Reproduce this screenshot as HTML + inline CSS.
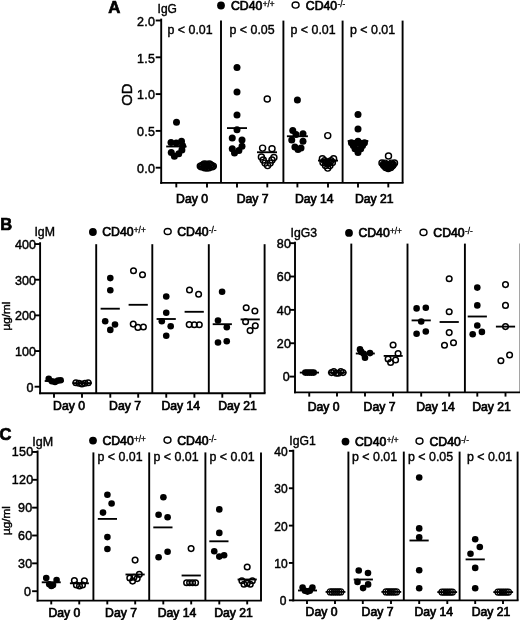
<!DOCTYPE html>
<html><head><meta charset="utf-8"><title>Figure</title>
<style>
html,body{margin:0;padding:0;background:#fff;}
body{width:520px;height:620px;overflow:hidden;}
svg{display:block;font-family:'Liberation Sans', sans-serif;fill:#000;}
text{stroke:#000;stroke-width:0.7px;}
svg{filter:grayscale(1);}
</style></head>
<body>
<svg width="520" height="620" viewBox="0 0 520 620">
<rect x="0" y="0" width="520" height="620" fill="#fff"/>
<text x="108.30" y="12.90" font-size="16.8" text-anchor="start" font-weight="bold" >A</text>
<text x="157.60" y="13.20" font-size="12" text-anchor="start" font-weight="normal" style="stroke-width:0.4px">IgG</text>
<circle cx="221.00" cy="5.50" r="3.9" fill="#000"/>
<text x="231.00" y="10.00" font-size="12.25">CD40<tspan font-size="8.2" dy="-3.1" dx="0.3" stroke-width="0.3">+/+</tspan></text>
<ellipse cx="295.60" cy="5.00" rx="3.45" ry="3.1" fill="#fff" stroke="#000" stroke-width="1.45"/>
<text x="305.80" y="10.00" font-size="12.25">CD40<tspan font-size="8.2" dy="-3.1" dx="0.3" stroke-width="0.3">-/-</tspan></text>
<line x1="161.20" y1="18.65" x2="161.20" y2="183.85" stroke="#000" stroke-width="1.9"/>
<line x1="160.25" y1="182.90" x2="403.55" y2="182.90" stroke="#000" stroke-width="1.9"/>
<line x1="221.00" y1="20.60" x2="221.00" y2="182.90" stroke="#000" stroke-width="1.9"/>
<line x1="283.40" y1="20.60" x2="283.40" y2="182.90" stroke="#000" stroke-width="1.9"/>
<line x1="342.60" y1="20.60" x2="342.60" y2="182.90" stroke="#000" stroke-width="1.9"/>
<line x1="402.60" y1="20.60" x2="402.60" y2="182.90" stroke="#000" stroke-width="1.9"/>
<line x1="155.70" y1="20.50" x2="161.20" y2="20.50" stroke="#000" stroke-width="1.9"/>
<text x="155.40" y="25.80" font-size="12.5" text-anchor="end" font-weight="normal" style="stroke-width:0.45px;letter-spacing:0.35px">2.0</text>
<line x1="155.70" y1="57.30" x2="161.20" y2="57.30" stroke="#000" stroke-width="1.9"/>
<text x="155.40" y="62.60" font-size="12.5" text-anchor="end" font-weight="normal" style="stroke-width:0.45px;letter-spacing:0.35px">1.5</text>
<line x1="155.70" y1="94.10" x2="161.20" y2="94.10" stroke="#000" stroke-width="1.9"/>
<text x="155.40" y="99.40" font-size="12.5" text-anchor="end" font-weight="normal" style="stroke-width:0.45px;letter-spacing:0.35px">1.0</text>
<line x1="155.70" y1="130.90" x2="161.20" y2="130.90" stroke="#000" stroke-width="1.9"/>
<text x="155.40" y="136.20" font-size="12.5" text-anchor="end" font-weight="normal" style="stroke-width:0.45px;letter-spacing:0.35px">0.5</text>
<line x1="155.70" y1="167.70" x2="161.20" y2="167.70" stroke="#000" stroke-width="1.9"/>
<text x="155.40" y="173.00" font-size="12.5" text-anchor="end" font-weight="normal" style="stroke-width:0.45px;letter-spacing:0.35px">0.0</text>
<line x1="176.30" y1="182.90" x2="176.30" y2="187.40" stroke="#000" stroke-width="1.9"/>
<line x1="207.00" y1="182.90" x2="207.00" y2="187.40" stroke="#000" stroke-width="1.9"/>
<line x1="237.00" y1="182.90" x2="237.00" y2="187.40" stroke="#000" stroke-width="1.9"/>
<line x1="267.30" y1="182.90" x2="267.30" y2="187.40" stroke="#000" stroke-width="1.9"/>
<line x1="297.40" y1="182.90" x2="297.40" y2="187.40" stroke="#000" stroke-width="1.9"/>
<line x1="328.00" y1="182.90" x2="328.00" y2="187.40" stroke="#000" stroke-width="1.9"/>
<line x1="358.00" y1="182.90" x2="358.00" y2="187.40" stroke="#000" stroke-width="1.9"/>
<line x1="388.30" y1="182.90" x2="388.30" y2="187.40" stroke="#000" stroke-width="1.9"/>
<text x="192.00" y="203.00" font-size="12.2" text-anchor="middle" font-weight="normal" >Day 0</text>
<text x="252.60" y="203.00" font-size="12.2" text-anchor="middle" font-weight="normal" >Day 7</text>
<text x="314.20" y="203.00" font-size="12.2" text-anchor="middle" font-weight="normal" >Day 14</text>
<text x="374.30" y="203.00" font-size="12.2" text-anchor="middle" font-weight="normal" >Day 21</text>
<text transform="translate(132.3,94.6) rotate(-90)" font-size="14.8" text-anchor="middle" style="stroke-width:0.45px">OD</text>
<text x="167.50" y="34.20" font-size="12.4" text-anchor="start" font-weight="normal" style="stroke-width:0.4px">p &lt; 0.01</text>
<text x="229.50" y="34.20" font-size="12.4" text-anchor="start" font-weight="normal" style="stroke-width:0.4px">p &lt; 0.05</text>
<text x="290.50" y="34.20" font-size="12.4" text-anchor="start" font-weight="normal" style="stroke-width:0.4px">p &lt; 0.01</text>
<text x="350.00" y="34.20" font-size="12.4" text-anchor="start" font-weight="normal" style="stroke-width:0.4px">p &lt; 0.01</text>
<circle cx="176.50" cy="122.30" r="3.5" fill="#000"/>
<circle cx="171.00" cy="142.50" r="3.5" fill="#000"/>
<circle cx="176.25" cy="143.00" r="3.5" fill="#000"/>
<circle cx="181.50" cy="141.30" r="3.5" fill="#000"/>
<circle cx="171.25" cy="152.50" r="3.5" fill="#000"/>
<circle cx="174.40" cy="156.25" r="3.5" fill="#000"/>
<circle cx="178.75" cy="153.75" r="3.5" fill="#000"/>
<circle cx="181.90" cy="150.00" r="3.5" fill="#000"/>
<circle cx="182.50" cy="145.50" r="3.5" fill="#000"/>
<line x1="166.20" y1="146.50" x2="186.60" y2="146.50" stroke="#000" stroke-width="1.85"/>
<circle cx="200.30" cy="166.10" r="3.0" fill="none" stroke="#000" stroke-width="1.45"/>
<circle cx="202.10" cy="165.50" r="3.0" fill="none" stroke="#000" stroke-width="1.45"/>
<circle cx="204.30" cy="163.90" r="3.0" fill="none" stroke="#000" stroke-width="1.45"/>
<circle cx="205.50" cy="167.10" r="3.0" fill="none" stroke="#000" stroke-width="1.45"/>
<circle cx="206.80" cy="165.70" r="3.0" fill="none" stroke="#000" stroke-width="1.45"/>
<circle cx="208.10" cy="167.10" r="3.0" fill="none" stroke="#000" stroke-width="1.45"/>
<circle cx="209.50" cy="163.90" r="3.0" fill="none" stroke="#000" stroke-width="1.45"/>
<circle cx="211.50" cy="165.50" r="3.0" fill="none" stroke="#000" stroke-width="1.45"/>
<circle cx="213.30" cy="166.10" r="3.0" fill="none" stroke="#000" stroke-width="1.45"/>
<circle cx="206.80" cy="168.00" r="3.0" fill="none" stroke="#000" stroke-width="1.45"/>
<circle cx="204.50" cy="167.70" r="3.0" fill="none" stroke="#000" stroke-width="1.45"/>
<circle cx="209.10" cy="167.70" r="3.0" fill="none" stroke="#000" stroke-width="1.45"/>
<circle cx="201.30" cy="166.80" r="3.0" fill="none" stroke="#000" stroke-width="1.45"/>
<circle cx="212.30" cy="166.80" r="3.0" fill="none" stroke="#000" stroke-width="1.45"/>
<circle cx="203.00" cy="164.90" r="3.0" fill="none" stroke="#000" stroke-width="1.45"/>
<circle cx="210.80" cy="164.90" r="3.0" fill="none" stroke="#000" stroke-width="1.45"/>
<circle cx="206.80" cy="164.30" r="3.0" fill="none" stroke="#000" stroke-width="1.45"/>
<circle cx="237.00" cy="67.50" r="3.5" fill="#000"/>
<circle cx="237.00" cy="91.90" r="3.5" fill="#000"/>
<circle cx="237.00" cy="115.00" r="3.5" fill="#000"/>
<circle cx="237.00" cy="129.75" r="3.5" fill="#000"/>
<circle cx="232.25" cy="138.10" r="3.5" fill="#000"/>
<circle cx="242.00" cy="140.00" r="3.5" fill="#000"/>
<circle cx="242.00" cy="146.25" r="3.5" fill="#000"/>
<circle cx="232.25" cy="148.75" r="3.5" fill="#000"/>
<circle cx="238.90" cy="150.50" r="3.5" fill="#000"/>
<circle cx="234.50" cy="153.10" r="3.5" fill="#000"/>
<line x1="227.00" y1="128.10" x2="247.00" y2="128.10" stroke="#000" stroke-width="1.85"/>
<circle cx="267.25" cy="99.00" r="3.0" fill="none" stroke="#000" stroke-width="1.45"/>
<circle cx="262.60" cy="148.10" r="3.0" fill="none" stroke="#000" stroke-width="1.45"/>
<circle cx="272.00" cy="148.75" r="3.0" fill="none" stroke="#000" stroke-width="1.45"/>
<circle cx="261.40" cy="156.90" r="3.0" fill="none" stroke="#000" stroke-width="1.45"/>
<circle cx="273.90" cy="157.50" r="3.0" fill="none" stroke="#000" stroke-width="1.45"/>
<circle cx="263.25" cy="160.00" r="3.0" fill="none" stroke="#000" stroke-width="1.45"/>
<circle cx="272.00" cy="160.00" r="3.0" fill="none" stroke="#000" stroke-width="1.45"/>
<circle cx="265.10" cy="163.10" r="3.0" fill="none" stroke="#000" stroke-width="1.45"/>
<circle cx="270.10" cy="163.10" r="3.0" fill="none" stroke="#000" stroke-width="1.45"/>
<circle cx="267.60" cy="165.60" r="3.0" fill="none" stroke="#000" stroke-width="1.45"/>
<line x1="257.00" y1="152.25" x2="277.00" y2="152.25" stroke="#000" stroke-width="1.85"/>
<circle cx="297.40" cy="100.00" r="3.5" fill="#000"/>
<circle cx="292.75" cy="130.60" r="3.5" fill="#000"/>
<circle cx="296.00" cy="134.40" r="3.5" fill="#000"/>
<circle cx="303.00" cy="133.75" r="3.5" fill="#000"/>
<circle cx="291.75" cy="140.00" r="3.5" fill="#000"/>
<circle cx="303.00" cy="141.25" r="3.5" fill="#000"/>
<circle cx="294.90" cy="146.90" r="3.5" fill="#000"/>
<circle cx="298.00" cy="149.40" r="3.5" fill="#000"/>
<circle cx="301.00" cy="148.00" r="3.5" fill="#000"/>
<line x1="286.90" y1="136.25" x2="307.90" y2="136.25" stroke="#000" stroke-width="1.85"/>
<circle cx="327.75" cy="135.60" r="3.0" fill="none" stroke="#000" stroke-width="1.45"/>
<circle cx="322.40" cy="158.75" r="3.0" fill="none" stroke="#000" stroke-width="1.45"/>
<circle cx="333.60" cy="158.75" r="3.0" fill="none" stroke="#000" stroke-width="1.45"/>
<circle cx="323.00" cy="162.50" r="3.0" fill="none" stroke="#000" stroke-width="1.45"/>
<circle cx="332.40" cy="162.50" r="3.0" fill="none" stroke="#000" stroke-width="1.45"/>
<circle cx="325.50" cy="165.60" r="3.0" fill="none" stroke="#000" stroke-width="1.45"/>
<circle cx="329.90" cy="165.60" r="3.0" fill="none" stroke="#000" stroke-width="1.45"/>
<circle cx="327.75" cy="168.10" r="3.0" fill="none" stroke="#000" stroke-width="1.45"/>
<circle cx="324.60" cy="160.80" r="3.0" fill="none" stroke="#000" stroke-width="1.45"/>
<circle cx="331.00" cy="160.80" r="3.0" fill="none" stroke="#000" stroke-width="1.45"/>
<circle cx="327.75" cy="164.00" r="3.0" fill="none" stroke="#000" stroke-width="1.45"/>
<circle cx="326.50" cy="162.30" r="3.0" fill="none" stroke="#000" stroke-width="1.45"/>
<circle cx="329.00" cy="162.30" r="3.0" fill="none" stroke="#000" stroke-width="1.45"/>
<line x1="318.00" y1="160.60" x2="338.00" y2="160.60" stroke="#000" stroke-width="1.85"/>
<circle cx="358.00" cy="114.40" r="3.5" fill="#000"/>
<circle cx="358.00" cy="129.00" r="3.5" fill="#000"/>
<circle cx="358.00" cy="141.25" r="3.5" fill="#000"/>
<circle cx="351.40" cy="142.75" r="3.5" fill="#000"/>
<circle cx="364.50" cy="142.75" r="3.5" fill="#000"/>
<circle cx="353.25" cy="145.60" r="3.5" fill="#000"/>
<circle cx="362.60" cy="145.60" r="3.5" fill="#000"/>
<circle cx="355.00" cy="148.75" r="3.5" fill="#000"/>
<circle cx="360.75" cy="148.75" r="3.5" fill="#000"/>
<circle cx="358.00" cy="152.50" r="3.5" fill="#000"/>
<circle cx="355.50" cy="143.50" r="3.5" fill="#000"/>
<circle cx="360.50" cy="143.50" r="3.5" fill="#000"/>
<line x1="347.70" y1="141.00" x2="368.30" y2="141.00" stroke="#000" stroke-width="1.85"/>
<circle cx="388.50" cy="156.00" r="3.0" fill="none" stroke="#000" stroke-width="1.45"/>
<circle cx="382.00" cy="163.00" r="3.0" fill="none" stroke="#000" stroke-width="1.45"/>
<circle cx="394.50" cy="163.00" r="3.0" fill="none" stroke="#000" stroke-width="1.45"/>
<circle cx="383.90" cy="165.60" r="3.0" fill="none" stroke="#000" stroke-width="1.45"/>
<circle cx="392.60" cy="165.60" r="3.0" fill="none" stroke="#000" stroke-width="1.45"/>
<circle cx="385.75" cy="167.50" r="3.0" fill="none" stroke="#000" stroke-width="1.45"/>
<circle cx="390.75" cy="167.50" r="3.0" fill="none" stroke="#000" stroke-width="1.45"/>
<circle cx="388.25" cy="168.50" r="3.0" fill="none" stroke="#000" stroke-width="1.45"/>
<circle cx="385.00" cy="163.10" r="3.0" fill="none" stroke="#000" stroke-width="1.45"/>
<circle cx="391.40" cy="163.10" r="3.0" fill="none" stroke="#000" stroke-width="1.45"/>
<circle cx="383.40" cy="164.40" r="3.0" fill="none" stroke="#000" stroke-width="1.45"/>
<circle cx="386.20" cy="164.80" r="3.0" fill="none" stroke="#000" stroke-width="1.45"/>
<circle cx="388.30" cy="165.30" r="3.0" fill="none" stroke="#000" stroke-width="1.45"/>
<circle cx="390.40" cy="164.80" r="3.0" fill="none" stroke="#000" stroke-width="1.45"/>
<circle cx="393.20" cy="164.40" r="3.0" fill="none" stroke="#000" stroke-width="1.45"/>
<circle cx="387.00" cy="166.80" r="3.0" fill="none" stroke="#000" stroke-width="1.45"/>
<circle cx="389.60" cy="166.80" r="3.0" fill="none" stroke="#000" stroke-width="1.45"/>
<circle cx="388.30" cy="167.20" r="3.0" fill="none" stroke="#000" stroke-width="1.45"/>
<circle cx="384.60" cy="165.80" r="3.0" fill="none" stroke="#000" stroke-width="1.45"/>
<circle cx="392.00" cy="165.80" r="3.0" fill="none" stroke="#000" stroke-width="1.45"/>
<text x="0.20" y="230.40" font-size="16.5" text-anchor="start" font-weight="bold" >B</text>
<text x="34.40" y="236.40" font-size="12.3" text-anchor="start" font-weight="normal" style="stroke-width:0.4px">IgM</text>
<circle cx="92.90" cy="232.00" r="3.9" fill="#000"/>
<text x="102.20" y="236.20" font-size="12.25">CD40<tspan font-size="8.2" dy="-3.1" dx="0.3" stroke-width="0.3">+/+</tspan></text>
<ellipse cx="167.70" cy="231.50" rx="3.45" ry="3.1" fill="#fff" stroke="#000" stroke-width="1.45"/>
<text x="177.20" y="236.20" font-size="12.25">CD40<tspan font-size="8.2" dy="-3.1" dx="0.3" stroke-width="0.3">-/-</tspan></text>
<line x1="40.10" y1="242.25" x2="40.10" y2="394.15" stroke="#000" stroke-width="1.9"/>
<line x1="39.15" y1="393.20" x2="265.55" y2="393.20" stroke="#000" stroke-width="1.9"/>
<line x1="96.20" y1="244.20" x2="96.20" y2="393.20" stroke="#000" stroke-width="1.9"/>
<line x1="152.30" y1="244.20" x2="152.30" y2="393.20" stroke="#000" stroke-width="1.9"/>
<line x1="208.80" y1="244.20" x2="208.80" y2="393.20" stroke="#000" stroke-width="1.9"/>
<line x1="264.60" y1="244.20" x2="264.60" y2="393.20" stroke="#000" stroke-width="1.9"/>
<line x1="34.60" y1="244.06" x2="40.10" y2="244.06" stroke="#000" stroke-width="1.9"/>
<text x="35.90" y="249.06" font-size="12.5" text-anchor="end" font-weight="normal" style="stroke-width:0.45px;letter-spacing:0.0px">400</text>
<line x1="34.60" y1="279.72" x2="40.10" y2="279.72" stroke="#000" stroke-width="1.9"/>
<text x="35.90" y="284.72" font-size="12.5" text-anchor="end" font-weight="normal" style="stroke-width:0.45px;letter-spacing:0.0px">300</text>
<line x1="34.60" y1="315.38" x2="40.10" y2="315.38" stroke="#000" stroke-width="1.9"/>
<text x="35.90" y="320.38" font-size="12.5" text-anchor="end" font-weight="normal" style="stroke-width:0.45px;letter-spacing:0.0px">200</text>
<line x1="34.60" y1="351.04" x2="40.10" y2="351.04" stroke="#000" stroke-width="1.9"/>
<text x="35.90" y="356.04" font-size="12.5" text-anchor="end" font-weight="normal" style="stroke-width:0.45px;letter-spacing:0.0px">100</text>
<line x1="34.60" y1="386.70" x2="40.10" y2="386.70" stroke="#000" stroke-width="1.9"/>
<text x="33.50" y="391.70" font-size="12.5" text-anchor="end" font-weight="normal" style="stroke-width:0.45px;letter-spacing:0.0px">0</text>
<line x1="54.00" y1="393.20" x2="54.00" y2="397.70" stroke="#000" stroke-width="1.9"/>
<line x1="82.00" y1="393.20" x2="82.00" y2="397.70" stroke="#000" stroke-width="1.9"/>
<line x1="110.30" y1="393.20" x2="110.30" y2="397.70" stroke="#000" stroke-width="1.9"/>
<line x1="138.20" y1="393.20" x2="138.20" y2="397.70" stroke="#000" stroke-width="1.9"/>
<line x1="166.25" y1="393.20" x2="166.25" y2="397.70" stroke="#000" stroke-width="1.9"/>
<line x1="194.40" y1="393.20" x2="194.40" y2="397.70" stroke="#000" stroke-width="1.9"/>
<line x1="222.30" y1="393.20" x2="222.30" y2="397.70" stroke="#000" stroke-width="1.9"/>
<line x1="250.30" y1="393.20" x2="250.30" y2="397.70" stroke="#000" stroke-width="1.9"/>
<text x="69.00" y="410.40" font-size="12.2" text-anchor="middle" font-weight="normal" >Day 0</text>
<text x="125.00" y="410.40" font-size="12.2" text-anchor="middle" font-weight="normal" >Day 7</text>
<text x="180.80" y="410.40" font-size="12.2" text-anchor="middle" font-weight="normal" >Day 14</text>
<text x="237.50" y="410.40" font-size="12.2" text-anchor="middle" font-weight="normal" >Day 21</text>
<text transform="translate(9.5,316) rotate(-90)" font-size="11.7" text-anchor="middle" style="stroke-width:0.4px">µg/ml</text>
<circle cx="48.75" cy="378.90" r="3.3" fill="#000"/>
<circle cx="51.90" cy="381.25" r="3.3" fill="#000"/>
<circle cx="55.00" cy="381.90" r="3.3" fill="#000"/>
<circle cx="58.10" cy="380.60" r="3.3" fill="#000"/>
<circle cx="60.60" cy="380.20" r="3.3" fill="#000"/>
<line x1="44.70" y1="381.00" x2="63.70" y2="381.00" stroke="#000" stroke-width="1.85"/>
<circle cx="75.90" cy="382.70" r="2.8" fill="none" stroke="#000" stroke-width="1.5"/>
<circle cx="78.90" cy="383.30" r="2.8" fill="none" stroke="#000" stroke-width="1.5"/>
<circle cx="81.90" cy="384.00" r="2.8" fill="none" stroke="#000" stroke-width="1.5"/>
<circle cx="85.00" cy="383.30" r="2.8" fill="none" stroke="#000" stroke-width="1.5"/>
<circle cx="88.20" cy="382.80" r="2.8" fill="none" stroke="#000" stroke-width="1.5"/>
<line x1="72.40" y1="383.10" x2="91.80" y2="383.10" stroke="#000" stroke-width="1.85"/>
<circle cx="110.30" cy="278.10" r="3.3" fill="#000"/>
<circle cx="110.30" cy="290.30" r="3.3" fill="#000"/>
<circle cx="105.20" cy="321.20" r="3.3" fill="#000"/>
<circle cx="115.00" cy="324.50" r="3.3" fill="#000"/>
<circle cx="110.30" cy="329.90" r="3.3" fill="#000"/>
<line x1="100.60" y1="308.70" x2="119.80" y2="308.70" stroke="#000" stroke-width="1.85"/>
<circle cx="133.50" cy="270.80" r="2.8" fill="none" stroke="#000" stroke-width="1.5"/>
<circle cx="142.50" cy="274.75" r="2.8" fill="none" stroke="#000" stroke-width="1.5"/>
<circle cx="133.25" cy="324.10" r="2.8" fill="none" stroke="#000" stroke-width="1.5"/>
<circle cx="137.90" cy="327.40" r="2.8" fill="none" stroke="#000" stroke-width="1.5"/>
<circle cx="143.40" cy="327.00" r="2.8" fill="none" stroke="#000" stroke-width="1.5"/>
<line x1="128.60" y1="304.80" x2="147.80" y2="304.80" stroke="#000" stroke-width="1.85"/>
<circle cx="166.25" cy="296.50" r="3.3" fill="#000"/>
<circle cx="166.25" cy="312.70" r="3.3" fill="#000"/>
<circle cx="161.80" cy="321.20" r="3.3" fill="#000"/>
<circle cx="170.70" cy="326.30" r="3.3" fill="#000"/>
<circle cx="166.25" cy="335.80" r="3.3" fill="#000"/>
<line x1="156.60" y1="319.00" x2="175.80" y2="319.00" stroke="#000" stroke-width="1.85"/>
<circle cx="189.50" cy="290.00" r="2.8" fill="none" stroke="#000" stroke-width="1.5"/>
<circle cx="198.60" cy="294.30" r="2.8" fill="none" stroke="#000" stroke-width="1.5"/>
<circle cx="189.20" cy="324.60" r="2.8" fill="none" stroke="#000" stroke-width="1.5"/>
<circle cx="194.30" cy="324.80" r="2.8" fill="none" stroke="#000" stroke-width="1.5"/>
<circle cx="199.30" cy="324.80" r="2.8" fill="none" stroke="#000" stroke-width="1.5"/>
<line x1="184.60" y1="311.80" x2="203.80" y2="311.80" stroke="#000" stroke-width="1.85"/>
<circle cx="222.10" cy="291.70" r="3.3" fill="#000"/>
<circle cx="218.00" cy="320.50" r="3.3" fill="#000"/>
<circle cx="226.80" cy="327.20" r="3.3" fill="#000"/>
<circle cx="218.00" cy="342.50" r="3.3" fill="#000"/>
<circle cx="226.75" cy="341.25" r="3.3" fill="#000"/>
<line x1="212.70" y1="324.20" x2="231.90" y2="324.20" stroke="#000" stroke-width="1.85"/>
<circle cx="246.20" cy="307.70" r="2.8" fill="none" stroke="#000" stroke-width="1.5"/>
<circle cx="254.90" cy="311.00" r="2.8" fill="none" stroke="#000" stroke-width="1.5"/>
<circle cx="245.60" cy="321.70" r="2.8" fill="none" stroke="#000" stroke-width="1.5"/>
<circle cx="255.30" cy="325.80" r="2.8" fill="none" stroke="#000" stroke-width="1.5"/>
<circle cx="250.10" cy="330.60" r="2.8" fill="none" stroke="#000" stroke-width="1.5"/>
<line x1="240.60" y1="319.40" x2="259.80" y2="319.40" stroke="#000" stroke-width="1.85"/>
<text x="290.50" y="237.40" font-size="12.2" text-anchor="start" font-weight="normal" style="stroke-width:0.4px">IgG3</text>
<circle cx="349.00" cy="232.90" r="3.9" fill="#000"/>
<text x="358.40" y="236.80" font-size="12.25">CD40<tspan font-size="8.2" dy="-3.1" dx="0.3" stroke-width="0.3">+/+</tspan></text>
<ellipse cx="423.50" cy="232.40" rx="3.45" ry="3.1" fill="#fff" stroke="#000" stroke-width="1.45"/>
<text x="433.30" y="236.80" font-size="12.25">CD40<tspan font-size="8.2" dy="-3.1" dx="0.3" stroke-width="0.3">-/-</tspan></text>
<line x1="295.00" y1="241.65" x2="295.00" y2="393.35" stroke="#000" stroke-width="1.9"/>
<line x1="294.05" y1="392.40" x2="521.55" y2="392.40" stroke="#000" stroke-width="1.9"/>
<line x1="351.30" y1="243.60" x2="351.30" y2="392.40" stroke="#000" stroke-width="1.9"/>
<line x1="407.50" y1="243.60" x2="407.50" y2="392.40" stroke="#000" stroke-width="1.9"/>
<line x1="464.90" y1="243.60" x2="464.90" y2="392.40" stroke="#000" stroke-width="1.9"/>
<line x1="520.60" y1="243.60" x2="520.60" y2="392.40" stroke="#000" stroke-width="1.9"/>
<line x1="289.50" y1="243.16" x2="295.00" y2="243.16" stroke="#000" stroke-width="1.9"/>
<text x="291.20" y="247.86" font-size="12.5" text-anchor="end" font-weight="normal" style="stroke-width:0.45px;letter-spacing:0.3px">80</text>
<line x1="289.50" y1="276.52" x2="295.00" y2="276.52" stroke="#000" stroke-width="1.9"/>
<text x="291.20" y="281.22" font-size="12.5" text-anchor="end" font-weight="normal" style="stroke-width:0.45px;letter-spacing:0.3px">60</text>
<line x1="289.50" y1="309.88" x2="295.00" y2="309.88" stroke="#000" stroke-width="1.9"/>
<text x="291.20" y="314.58" font-size="12.5" text-anchor="end" font-weight="normal" style="stroke-width:0.45px;letter-spacing:0.3px">40</text>
<line x1="289.50" y1="343.24" x2="295.00" y2="343.24" stroke="#000" stroke-width="1.9"/>
<text x="291.20" y="347.94" font-size="12.5" text-anchor="end" font-weight="normal" style="stroke-width:0.45px;letter-spacing:0.3px">20</text>
<line x1="289.50" y1="376.60" x2="295.00" y2="376.60" stroke="#000" stroke-width="1.9"/>
<text x="290.00" y="381.30" font-size="12.5" text-anchor="end" font-weight="normal" style="stroke-width:0.45px;letter-spacing:0.3px">0</text>
<line x1="309.25" y1="392.40" x2="309.25" y2="396.60" stroke="#000" stroke-width="1.9"/>
<line x1="337.00" y1="392.40" x2="337.00" y2="396.60" stroke="#000" stroke-width="1.9"/>
<line x1="365.00" y1="392.40" x2="365.00" y2="396.60" stroke="#000" stroke-width="1.9"/>
<line x1="393.00" y1="392.40" x2="393.00" y2="396.60" stroke="#000" stroke-width="1.9"/>
<line x1="421.20" y1="392.40" x2="421.20" y2="396.60" stroke="#000" stroke-width="1.9"/>
<line x1="449.20" y1="392.40" x2="449.20" y2="396.60" stroke="#000" stroke-width="1.9"/>
<line x1="477.30" y1="392.40" x2="477.30" y2="396.60" stroke="#000" stroke-width="1.9"/>
<line x1="505.50" y1="392.40" x2="505.50" y2="396.60" stroke="#000" stroke-width="1.9"/>
<text x="323.60" y="411.00" font-size="12.2" text-anchor="middle" font-weight="normal" >Day 0</text>
<text x="379.50" y="411.00" font-size="12.2" text-anchor="middle" font-weight="normal" >Day 7</text>
<text x="435.50" y="411.00" font-size="12.2" text-anchor="middle" font-weight="normal" >Day 14</text>
<text x="491.50" y="411.00" font-size="12.2" text-anchor="middle" font-weight="normal" >Day 21</text>
<circle cx="305.30" cy="372.60" r="3.3" fill="#000"/>
<circle cx="307.40" cy="372.60" r="3.3" fill="#000"/>
<circle cx="309.50" cy="372.60" r="3.3" fill="#000"/>
<circle cx="311.60" cy="372.60" r="3.3" fill="#000"/>
<circle cx="313.70" cy="372.60" r="3.3" fill="#000"/>
<line x1="299.80" y1="372.60" x2="319.00" y2="372.60" stroke="#000" stroke-width="1.85"/>
<circle cx="331.60" cy="372.60" r="2.8" fill="none" stroke="#000" stroke-width="1.5"/>
<circle cx="333.80" cy="371.50" r="2.8" fill="none" stroke="#000" stroke-width="1.5"/>
<circle cx="336.20" cy="373.30" r="2.8" fill="none" stroke="#000" stroke-width="1.5"/>
<circle cx="338.40" cy="373.30" r="2.8" fill="none" stroke="#000" stroke-width="1.5"/>
<circle cx="340.80" cy="371.50" r="2.8" fill="none" stroke="#000" stroke-width="1.5"/>
<circle cx="343.00" cy="372.60" r="2.8" fill="none" stroke="#000" stroke-width="1.5"/>
<line x1="327.90" y1="372.60" x2="346.50" y2="372.60" stroke="#000" stroke-width="1.85"/>
<circle cx="360.00" cy="349.40" r="3.3" fill="#000"/>
<circle cx="361.25" cy="351.90" r="3.3" fill="#000"/>
<circle cx="363.75" cy="353.75" r="3.3" fill="#000"/>
<circle cx="370.00" cy="353.10" r="3.3" fill="#000"/>
<circle cx="365.00" cy="357.75" r="3.3" fill="#000"/>
<line x1="355.80" y1="353.50" x2="374.80" y2="353.50" stroke="#000" stroke-width="1.85"/>
<circle cx="393.10" cy="345.00" r="2.8" fill="none" stroke="#000" stroke-width="1.5"/>
<circle cx="398.10" cy="353.50" r="2.8" fill="none" stroke="#000" stroke-width="1.5"/>
<circle cx="388.10" cy="359.00" r="2.8" fill="none" stroke="#000" stroke-width="1.5"/>
<circle cx="395.60" cy="360.00" r="2.8" fill="none" stroke="#000" stroke-width="1.5"/>
<circle cx="390.60" cy="362.50" r="2.8" fill="none" stroke="#000" stroke-width="1.5"/>
<line x1="383.70" y1="355.90" x2="402.70" y2="355.90" stroke="#000" stroke-width="1.85"/>
<circle cx="416.60" cy="308.40" r="3.3" fill="#000"/>
<circle cx="425.80" cy="307.70" r="3.3" fill="#000"/>
<circle cx="421.20" cy="321.50" r="3.3" fill="#000"/>
<circle cx="416.60" cy="333.80" r="3.3" fill="#000"/>
<circle cx="425.80" cy="331.50" r="3.3" fill="#000"/>
<line x1="411.60" y1="320.40" x2="430.80" y2="320.40" stroke="#000" stroke-width="1.85"/>
<circle cx="449.20" cy="278.80" r="2.8" fill="none" stroke="#000" stroke-width="1.5"/>
<circle cx="449.20" cy="311.80" r="2.8" fill="none" stroke="#000" stroke-width="1.5"/>
<circle cx="449.20" cy="332.60" r="2.8" fill="none" stroke="#000" stroke-width="1.5"/>
<circle cx="453.50" cy="342.80" r="2.8" fill="none" stroke="#000" stroke-width="1.5"/>
<circle cx="444.50" cy="345.30" r="2.8" fill="none" stroke="#000" stroke-width="1.5"/>
<line x1="439.60" y1="322.00" x2="458.80" y2="322.00" stroke="#000" stroke-width="1.85"/>
<circle cx="477.30" cy="287.60" r="3.3" fill="#000"/>
<circle cx="477.30" cy="305.40" r="3.3" fill="#000"/>
<circle cx="477.30" cy="325.50" r="3.3" fill="#000"/>
<circle cx="481.90" cy="331.90" r="3.3" fill="#000"/>
<circle cx="472.70" cy="334.20" r="3.3" fill="#000"/>
<line x1="467.70" y1="316.50" x2="486.90" y2="316.50" stroke="#000" stroke-width="1.85"/>
<circle cx="505.50" cy="284.60" r="2.8" fill="none" stroke="#000" stroke-width="1.5"/>
<circle cx="505.50" cy="305.40" r="2.8" fill="none" stroke="#000" stroke-width="1.5"/>
<circle cx="505.50" cy="326.60" r="2.8" fill="none" stroke="#000" stroke-width="1.5"/>
<circle cx="509.60" cy="355.00" r="2.8" fill="none" stroke="#000" stroke-width="1.5"/>
<circle cx="500.90" cy="360.80" r="2.8" fill="none" stroke="#000" stroke-width="1.5"/>
<line x1="495.90" y1="326.60" x2="515.10" y2="326.60" stroke="#000" stroke-width="1.85"/>
<text x="-0.50" y="439.50" font-size="16.5" text-anchor="start" font-weight="bold" >C</text>
<text x="32.30" y="446.00" font-size="12.5" text-anchor="start" font-weight="normal" style="stroke-width:0.4px">IgM</text>
<circle cx="93.00" cy="440.60" r="3.9" fill="#000"/>
<text x="102.40" y="444.60" font-size="12.25">CD40<tspan font-size="8.2" dy="-3.1" dx="0.3" stroke-width="0.3">+/+</tspan></text>
<ellipse cx="167.50" cy="440.10" rx="3.45" ry="3.1" fill="#fff" stroke="#000" stroke-width="1.45"/>
<text x="177.20" y="444.60" font-size="12.25">CD40<tspan font-size="8.2" dy="-3.1" dx="0.3" stroke-width="0.3">-/-</tspan></text>
<line x1="37.60" y1="450.45" x2="37.60" y2="601.55" stroke="#000" stroke-width="1.9"/>
<line x1="36.65" y1="600.60" x2="261.95" y2="600.60" stroke="#000" stroke-width="1.9"/>
<line x1="93.40" y1="452.40" x2="93.40" y2="600.60" stroke="#000" stroke-width="1.9"/>
<line x1="149.20" y1="452.40" x2="149.20" y2="600.60" stroke="#000" stroke-width="1.9"/>
<line x1="205.40" y1="452.40" x2="205.40" y2="600.60" stroke="#000" stroke-width="1.9"/>
<line x1="261.00" y1="452.40" x2="261.00" y2="600.60" stroke="#000" stroke-width="1.9"/>
<line x1="32.10" y1="451.96" x2="37.60" y2="451.96" stroke="#000" stroke-width="1.9"/>
<text x="33.60" y="456.36" font-size="12.5" text-anchor="end" font-weight="normal" style="stroke-width:0.45px;letter-spacing:0.3px">150</text>
<line x1="32.10" y1="479.80" x2="37.60" y2="479.80" stroke="#000" stroke-width="1.9"/>
<text x="33.60" y="484.20" font-size="12.5" text-anchor="end" font-weight="normal" style="stroke-width:0.45px;letter-spacing:0.3px">120</text>
<line x1="32.10" y1="507.65" x2="37.60" y2="507.65" stroke="#000" stroke-width="1.9"/>
<text x="32.40" y="512.05" font-size="12.5" text-anchor="end" font-weight="normal" style="stroke-width:0.45px;letter-spacing:0.3px">90</text>
<line x1="32.10" y1="535.50" x2="37.60" y2="535.50" stroke="#000" stroke-width="1.9"/>
<text x="32.40" y="539.90" font-size="12.5" text-anchor="end" font-weight="normal" style="stroke-width:0.45px;letter-spacing:0.3px">60</text>
<line x1="32.10" y1="563.35" x2="37.60" y2="563.35" stroke="#000" stroke-width="1.9"/>
<text x="32.40" y="567.75" font-size="12.5" text-anchor="end" font-weight="normal" style="stroke-width:0.45px;letter-spacing:0.3px">30</text>
<line x1="32.10" y1="591.20" x2="37.60" y2="591.20" stroke="#000" stroke-width="1.9"/>
<text x="31.20" y="595.60" font-size="12.5" text-anchor="end" font-weight="normal" style="stroke-width:0.45px;letter-spacing:0.3px">0</text>
<line x1="51.25" y1="600.60" x2="51.25" y2="604.40" stroke="#000" stroke-width="1.9"/>
<line x1="79.25" y1="600.60" x2="79.25" y2="604.40" stroke="#000" stroke-width="1.9"/>
<line x1="107.30" y1="600.60" x2="107.30" y2="604.40" stroke="#000" stroke-width="1.9"/>
<line x1="135.20" y1="600.60" x2="135.20" y2="604.40" stroke="#000" stroke-width="1.9"/>
<line x1="163.30" y1="600.60" x2="163.30" y2="604.40" stroke="#000" stroke-width="1.9"/>
<line x1="191.20" y1="600.60" x2="191.20" y2="604.40" stroke="#000" stroke-width="1.9"/>
<line x1="219.30" y1="600.60" x2="219.30" y2="604.40" stroke="#000" stroke-width="1.9"/>
<line x1="247.20" y1="600.60" x2="247.20" y2="604.40" stroke="#000" stroke-width="1.9"/>
<text x="64.40" y="617.40" font-size="12.2" text-anchor="middle" font-weight="normal" >Day 0</text>
<text x="121.00" y="617.40" font-size="12.2" text-anchor="middle" font-weight="normal" >Day 7</text>
<text x="177.00" y="617.40" font-size="12.2" text-anchor="middle" font-weight="normal" >Day 14</text>
<text x="233.50" y="617.40" font-size="12.2" text-anchor="middle" font-weight="normal" >Day 21</text>
<text transform="translate(9.5,520.6) rotate(-90)" font-size="11.7" text-anchor="middle" style="stroke-width:0.4px">µg/ml</text>
<text x="97.50" y="460.80" font-size="12.4" text-anchor="start" font-weight="normal" style="stroke-width:0.4px">p &lt; 0.01</text>
<text x="153.50" y="460.80" font-size="12.4" text-anchor="start" font-weight="normal" style="stroke-width:0.4px">p &lt; 0.01</text>
<text x="209.50" y="460.80" font-size="12.4" text-anchor="start" font-weight="normal" style="stroke-width:0.4px">p &lt; 0.01</text>
<circle cx="46.25" cy="578.10" r="3.3" fill="#000"/>
<circle cx="56.60" cy="580.00" r="3.3" fill="#000"/>
<circle cx="49.25" cy="584.20" r="3.3" fill="#000"/>
<circle cx="53.00" cy="585.00" r="3.3" fill="#000"/>
<circle cx="51.40" cy="586.00" r="3.3" fill="#000"/>
<line x1="41.75" y1="582.30" x2="60.75" y2="582.30" stroke="#000" stroke-width="1.85"/>
<circle cx="74.40" cy="580.50" r="2.8" fill="none" stroke="#000" stroke-width="1.5"/>
<circle cx="84.40" cy="580.70" r="2.8" fill="none" stroke="#000" stroke-width="1.5"/>
<circle cx="76.40" cy="585.00" r="2.8" fill="none" stroke="#000" stroke-width="1.5"/>
<circle cx="82.50" cy="585.00" r="2.8" fill="none" stroke="#000" stroke-width="1.5"/>
<circle cx="79.50" cy="586.00" r="2.8" fill="none" stroke="#000" stroke-width="1.5"/>
<line x1="69.90" y1="583.30" x2="88.90" y2="583.30" stroke="#000" stroke-width="1.85"/>
<circle cx="107.40" cy="494.70" r="3.3" fill="#000"/>
<circle cx="111.60" cy="503.50" r="3.3" fill="#000"/>
<circle cx="103.00" cy="512.60" r="3.3" fill="#000"/>
<circle cx="107.40" cy="537.10" r="3.3" fill="#000"/>
<circle cx="107.40" cy="549.00" r="3.3" fill="#000"/>
<line x1="97.80" y1="518.90" x2="117.00" y2="518.90" stroke="#000" stroke-width="1.85"/>
<circle cx="135.10" cy="560.10" r="2.8" fill="none" stroke="#000" stroke-width="1.5"/>
<circle cx="139.30" cy="574.40" r="2.8" fill="none" stroke="#000" stroke-width="1.5"/>
<circle cx="129.80" cy="578.00" r="2.8" fill="none" stroke="#000" stroke-width="1.5"/>
<circle cx="137.20" cy="578.60" r="2.8" fill="none" stroke="#000" stroke-width="1.5"/>
<circle cx="132.60" cy="581.10" r="2.8" fill="none" stroke="#000" stroke-width="1.5"/>
<circle cx="134.00" cy="577.30" r="2.8" fill="none" stroke="#000" stroke-width="1.5"/>
<line x1="125.50" y1="574.50" x2="144.70" y2="574.50" stroke="#000" stroke-width="1.85"/>
<circle cx="163.40" cy="497.25" r="3.3" fill="#000"/>
<circle cx="158.60" cy="514.70" r="3.3" fill="#000"/>
<circle cx="167.60" cy="517.20" r="3.3" fill="#000"/>
<circle cx="167.60" cy="551.80" r="3.3" fill="#000"/>
<circle cx="158.60" cy="557.20" r="3.3" fill="#000"/>
<line x1="153.30" y1="527.40" x2="172.50" y2="527.40" stroke="#000" stroke-width="1.85"/>
<circle cx="191.10" cy="548.60" r="2.8" fill="none" stroke="#000" stroke-width="1.5"/>
<circle cx="186.60" cy="582.80" r="2.8" fill="none" stroke="#000" stroke-width="1.5"/>
<circle cx="189.60" cy="582.80" r="2.8" fill="none" stroke="#000" stroke-width="1.5"/>
<circle cx="192.60" cy="582.80" r="2.8" fill="none" stroke="#000" stroke-width="1.5"/>
<circle cx="195.60" cy="582.80" r="2.8" fill="none" stroke="#000" stroke-width="1.5"/>
<line x1="181.60" y1="575.50" x2="200.80" y2="575.50" stroke="#000" stroke-width="1.85"/>
<circle cx="219.30" cy="509.40" r="3.3" fill="#000"/>
<circle cx="219.30" cy="532.90" r="3.3" fill="#000"/>
<circle cx="214.25" cy="551.30" r="3.3" fill="#000"/>
<circle cx="224.10" cy="555.30" r="3.3" fill="#000"/>
<circle cx="219.30" cy="556.60" r="3.3" fill="#000"/>
<line x1="209.30" y1="541.30" x2="228.50" y2="541.30" stroke="#000" stroke-width="1.85"/>
<circle cx="247.20" cy="567.00" r="2.8" fill="none" stroke="#000" stroke-width="1.5"/>
<circle cx="241.90" cy="580.70" r="2.8" fill="none" stroke="#000" stroke-width="1.5"/>
<circle cx="252.40" cy="580.70" r="2.8" fill="none" stroke="#000" stroke-width="1.5"/>
<circle cx="244.00" cy="584.25" r="2.8" fill="none" stroke="#000" stroke-width="1.5"/>
<circle cx="250.30" cy="584.25" r="2.8" fill="none" stroke="#000" stroke-width="1.5"/>
<circle cx="247.20" cy="583.20" r="2.8" fill="none" stroke="#000" stroke-width="1.5"/>
<line x1="237.60" y1="579.50" x2="256.80" y2="579.50" stroke="#000" stroke-width="1.85"/>
<text x="289.30" y="444.80" font-size="12.2" text-anchor="start" font-weight="normal" style="stroke-width:0.4px">IgG1</text>
<circle cx="345.50" cy="441.60" r="3.9" fill="#000"/>
<text x="355.00" y="445.60" font-size="12.25">CD40<tspan font-size="8.2" dy="-3.1" dx="0.3" stroke-width="0.3">+/+</tspan></text>
<ellipse cx="419.50" cy="441.10" rx="3.45" ry="3.1" fill="#fff" stroke="#000" stroke-width="1.45"/>
<text x="429.50" y="445.60" font-size="12.25">CD40<tspan font-size="8.2" dy="-3.1" dx="0.3" stroke-width="0.3">-/-</tspan></text>
<line x1="293.30" y1="449.65" x2="293.30" y2="601.35" stroke="#000" stroke-width="1.9"/>
<line x1="292.35" y1="600.40" x2="518.55" y2="600.40" stroke="#000" stroke-width="1.9"/>
<line x1="348.40" y1="451.60" x2="348.40" y2="600.40" stroke="#000" stroke-width="1.9"/>
<line x1="403.80" y1="451.60" x2="403.80" y2="600.40" stroke="#000" stroke-width="1.9"/>
<line x1="459.60" y1="451.60" x2="459.60" y2="600.40" stroke="#000" stroke-width="1.9"/>
<line x1="517.60" y1="451.60" x2="517.60" y2="600.40" stroke="#000" stroke-width="1.9"/>
<line x1="288.90" y1="450.90" x2="293.30" y2="450.90" stroke="#000" stroke-width="1.9"/>
<text x="287.70" y="455.80" font-size="12.0" text-anchor="end" font-weight="normal" style="stroke-width:0.45px;letter-spacing:0.0px">40</text>
<line x1="288.90" y1="488.25" x2="293.30" y2="488.25" stroke="#000" stroke-width="1.9"/>
<text x="287.70" y="493.15" font-size="12.0" text-anchor="end" font-weight="normal" style="stroke-width:0.45px;letter-spacing:0.0px">30</text>
<line x1="288.90" y1="525.60" x2="293.30" y2="525.60" stroke="#000" stroke-width="1.9"/>
<text x="287.70" y="530.50" font-size="12.0" text-anchor="end" font-weight="normal" style="stroke-width:0.45px;letter-spacing:0.0px">20</text>
<line x1="288.90" y1="562.95" x2="293.30" y2="562.95" stroke="#000" stroke-width="1.9"/>
<text x="287.70" y="567.85" font-size="12.0" text-anchor="end" font-weight="normal" style="stroke-width:0.45px;letter-spacing:0.0px">10</text>
<line x1="288.90" y1="600.30" x2="293.30" y2="600.30" stroke="#000" stroke-width="1.9"/>
<text x="286.50" y="605.20" font-size="12.0" text-anchor="end" font-weight="normal" style="stroke-width:0.45px;letter-spacing:0.0px">0</text>
<line x1="307.00" y1="600.40" x2="307.00" y2="604.00" stroke="#000" stroke-width="1.9"/>
<line x1="335.00" y1="600.40" x2="335.00" y2="604.00" stroke="#000" stroke-width="1.9"/>
<line x1="362.80" y1="600.40" x2="362.80" y2="604.00" stroke="#000" stroke-width="1.9"/>
<line x1="391.00" y1="600.40" x2="391.00" y2="604.00" stroke="#000" stroke-width="1.9"/>
<line x1="419.20" y1="600.40" x2="419.20" y2="604.00" stroke="#000" stroke-width="1.9"/>
<line x1="447.30" y1="600.40" x2="447.30" y2="604.00" stroke="#000" stroke-width="1.9"/>
<line x1="475.20" y1="600.40" x2="475.20" y2="604.00" stroke="#000" stroke-width="1.9"/>
<line x1="503.00" y1="600.40" x2="503.00" y2="604.00" stroke="#000" stroke-width="1.9"/>
<text x="321.50" y="615.90" font-size="12.2" text-anchor="middle" font-weight="normal" >Day 0</text>
<text x="377.50" y="615.90" font-size="12.2" text-anchor="middle" font-weight="normal" >Day 7</text>
<text x="433.80" y="615.90" font-size="12.2" text-anchor="middle" font-weight="normal" >Day 14</text>
<text x="491.00" y="615.90" font-size="12.2" text-anchor="middle" font-weight="normal" >Day 21</text>
<text x="352.00" y="460.80" font-size="12.4" text-anchor="start" font-weight="normal" style="stroke-width:0.4px">p &lt; 0.01</text>
<text x="408.00" y="460.80" font-size="12.4" text-anchor="start" font-weight="normal" style="stroke-width:0.4px">p &lt; 0.05</text>
<text x="466.90" y="460.80" font-size="12.4" text-anchor="start" font-weight="normal" style="stroke-width:0.4px">p &lt; 0.01</text>
<circle cx="302.60" cy="587.60" r="3.3" fill="#000"/>
<circle cx="312.40" cy="587.60" r="3.3" fill="#000"/>
<circle cx="305.00" cy="590.80" r="3.3" fill="#000"/>
<circle cx="309.80" cy="590.80" r="3.3" fill="#000"/>
<circle cx="307.50" cy="591.60" r="3.3" fill="#000"/>
<line x1="298.00" y1="590.50" x2="317.00" y2="590.50" stroke="#000" stroke-width="1.85"/>
<circle cx="330.25" cy="591.90" r="3.0" fill="none" stroke="#000" stroke-width="1.25"/>
<circle cx="332.35" cy="591.90" r="3.0" fill="none" stroke="#000" stroke-width="1.25"/>
<circle cx="334.45" cy="591.90" r="3.0" fill="none" stroke="#000" stroke-width="1.25"/>
<circle cx="336.55" cy="591.90" r="3.0" fill="none" stroke="#000" stroke-width="1.25"/>
<circle cx="338.65" cy="591.90" r="3.0" fill="none" stroke="#000" stroke-width="1.25"/>
<circle cx="340.75" cy="591.90" r="3.0" fill="none" stroke="#000" stroke-width="1.25"/>
<line x1="325.60" y1="591.90" x2="345.40" y2="591.90" stroke="#000" stroke-width="1.85"/>
<circle cx="358.75" cy="570.50" r="3.3" fill="#000"/>
<circle cx="368.00" cy="573.00" r="3.3" fill="#000"/>
<circle cx="357.50" cy="581.90" r="3.3" fill="#000"/>
<circle cx="368.10" cy="584.40" r="3.3" fill="#000"/>
<circle cx="363.10" cy="588.10" r="3.3" fill="#000"/>
<line x1="353.70" y1="579.50" x2="372.90" y2="579.50" stroke="#000" stroke-width="1.85"/>
<circle cx="386.05" cy="591.90" r="3.0" fill="none" stroke="#000" stroke-width="1.25"/>
<circle cx="388.15" cy="591.90" r="3.0" fill="none" stroke="#000" stroke-width="1.25"/>
<circle cx="390.25" cy="591.90" r="3.0" fill="none" stroke="#000" stroke-width="1.25"/>
<circle cx="392.35" cy="591.90" r="3.0" fill="none" stroke="#000" stroke-width="1.25"/>
<circle cx="394.45" cy="591.90" r="3.0" fill="none" stroke="#000" stroke-width="1.25"/>
<circle cx="396.55" cy="591.90" r="3.0" fill="none" stroke="#000" stroke-width="1.25"/>
<line x1="381.40" y1="591.90" x2="401.20" y2="591.90" stroke="#000" stroke-width="1.85"/>
<circle cx="419.20" cy="477.50" r="3.3" fill="#000"/>
<circle cx="419.20" cy="528.40" r="3.3" fill="#000"/>
<circle cx="419.20" cy="537.40" r="3.3" fill="#000"/>
<circle cx="419.20" cy="570.20" r="3.3" fill="#000"/>
<circle cx="419.20" cy="588.30" r="3.3" fill="#000"/>
<line x1="409.50" y1="540.50" x2="428.70" y2="540.50" stroke="#000" stroke-width="1.85"/>
<circle cx="441.95" cy="592.10" r="3.0" fill="none" stroke="#000" stroke-width="1.25"/>
<circle cx="444.05" cy="592.10" r="3.0" fill="none" stroke="#000" stroke-width="1.25"/>
<circle cx="446.15" cy="592.10" r="3.0" fill="none" stroke="#000" stroke-width="1.25"/>
<circle cx="448.25" cy="592.10" r="3.0" fill="none" stroke="#000" stroke-width="1.25"/>
<circle cx="450.35" cy="592.10" r="3.0" fill="none" stroke="#000" stroke-width="1.25"/>
<circle cx="452.45" cy="592.10" r="3.0" fill="none" stroke="#000" stroke-width="1.25"/>
<line x1="437.30" y1="592.10" x2="457.10" y2="592.10" stroke="#000" stroke-width="1.85"/>
<circle cx="475.20" cy="539.20" r="3.3" fill="#000"/>
<circle cx="479.80" cy="547.00" r="3.3" fill="#000"/>
<circle cx="470.50" cy="553.70" r="3.3" fill="#000"/>
<circle cx="475.20" cy="567.90" r="3.3" fill="#000"/>
<circle cx="475.20" cy="588.30" r="3.3" fill="#000"/>
<line x1="465.60" y1="559.40" x2="484.80" y2="559.40" stroke="#000" stroke-width="1.85"/>
<circle cx="497.95" cy="592.10" r="3.0" fill="none" stroke="#000" stroke-width="1.25"/>
<circle cx="500.05" cy="592.10" r="3.0" fill="none" stroke="#000" stroke-width="1.25"/>
<circle cx="502.15" cy="592.10" r="3.0" fill="none" stroke="#000" stroke-width="1.25"/>
<circle cx="504.25" cy="592.10" r="3.0" fill="none" stroke="#000" stroke-width="1.25"/>
<circle cx="506.35" cy="592.10" r="3.0" fill="none" stroke="#000" stroke-width="1.25"/>
<circle cx="508.45" cy="592.10" r="3.0" fill="none" stroke="#000" stroke-width="1.25"/>
<line x1="493.30" y1="592.10" x2="513.10" y2="592.10" stroke="#000" stroke-width="1.85"/>
</svg>
</body></html>
